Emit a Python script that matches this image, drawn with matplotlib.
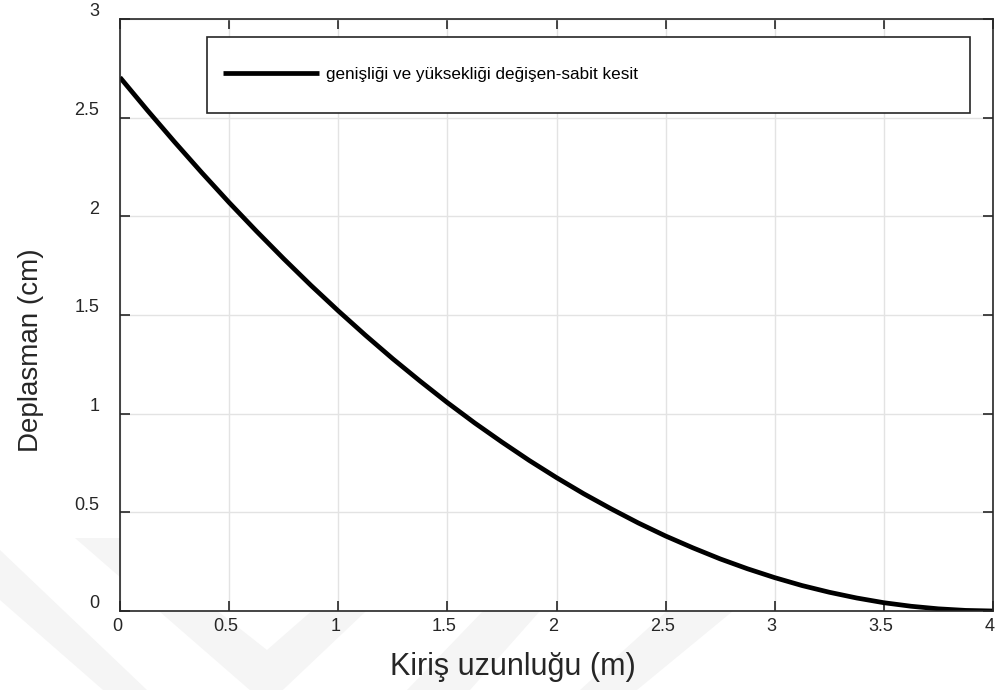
import matplotlib
matplotlib.use("Agg")
import matplotlib.pyplot as plt
from matplotlib.patches import Polygon, Rectangle
from matplotlib.transforms import ScaledTranslation

plt.rcParams['font.family'] = ['Liberation Sans', 'DejaVu Sans']

# beam length (m) and deflection (cm)
x_m = [0, 0.125, 0.25, 0.375, 0.5, 0.625, 0.75, 0.875, 1.0, 1.125, 1.25, 1.375, 1.5, 1.625,
       1.75, 1.875, 2.0, 2.125, 2.25, 2.375, 2.5, 2.625, 2.75, 2.875, 3.0, 3.125, 3.25,
       3.375, 3.5, 3.625, 3.75, 3.875, 4.0]
defl_cm = [2.704, 2.538, 2.377, 2.221, 2.070, 1.925, 1.785, 1.650, 1.521, 1.397, 1.278,
           1.165, 1.056, 0.953, 0.856, 0.763, 0.676, 0.594, 0.518, 0.446, 0.380, 0.320,
           0.264, 0.214, 0.169, 0.129, 0.095, 0.066, 0.042, 0.024, 0.011, 0.003, 0.0]
series_label = 'genişliği ve yüksekliği değişen-sabit kesit'
xticks = [0, 0.5, 1, 1.5, 2, 2.5, 3, 3.5, 4]
xticklabels = ['0', '0.5', '1', '1.5', '2', '2.5', '3', '3.5', '4']
yticks = [0, 0.5, 1, 1.5, 2, 2.5, 3]
yticklabels = ['0', '0.5', '1', '1.5', '2', '2.5', '3']

W, H = 999, 690
fig = plt.figure(figsize=(W / 100, H / 100), dpi=100)

# faint watermark behind everything (pixel coords, y down)
wm = [
    [(0, 550), (0, 600), (103, 690), (147, 690)],
    [(75, 538), (125, 538), (267, 650), (370, 560), (420, 560), (267, 705)],
    [(407, 690), (470, 690), (540, 611), (483, 611)],
    [(580, 690), (637, 690), (733, 611), (667, 611)],
]
for pts in wm:
    fig.patches.append(Polygon([(px / W, 1 - py / H) for px, py in pts], closed=True,
                               transform=fig.transFigure, facecolor='#f5f5f5',
                               edgecolor='none', zorder=-5))

ax = fig.add_axes([120 / W, 1 - 611 / H, 873 / W, 592 / H])
ax.set_zorder(1)
ax.set_facecolor('white')

ax.plot(x_m, defl_cm, color='black', lw=3.4, label=series_label,
        solid_capstyle='butt', solid_joinstyle='round')

ax.set_xlim(0, 4)
ax.set_ylim(0, 3)
ax.set_xticks(xticks, xticklabels)
ax.set_yticks(yticks, yticklabels)
ax.grid(True, color='#e3e3e3', lw=1)
ax.set_axisbelow(True)
for s in ax.spines.values():
    s.set_color('#262626')
    s.set_linewidth(1.2)
ax.tick_params(direction='in', length=7, width=1.2, color='#262626',
               top=True, right=True, labelsize=13, labelcolor='#262626')
ax.tick_params(axis='y', pad=15)
ax.tick_params(axis='x', pad=5)

# labels sit a bit off their ticks, as in the original export
for lab in ax.get_yticklabels():
    lab.set_transform(lab.get_transform() + ScaledTranslation(0, 9 / 100, fig.dpi_scale_trans))
for lab in ax.get_xticklabels():
    lab.set_transform(lab.get_transform() + ScaledTranslation(-3 / 100, 0, fig.dpi_scale_trans))

ax.set_xlabel('Kiriş uzunluğu (m)', fontsize=22, color='#262626')
ax.set_ylabel('Deplasman (cm)', fontsize=20, color='#262626')
ax.xaxis.set_label_coords(0.45, -0.07)
ax.yaxis.set_label_coords(-0.087, 0.44)

# legend box
ax.add_patch(Rectangle((0.0997, 0.8412), 0.874, 0.1284, transform=ax.transAxes,
                       facecolor='white', edgecolor='#262626', lw=1.2, zorder=3))
leg = ax.legend(loc='center left', bbox_to_anchor=(0.118, 0.907), frameon=False,
                borderpad=0, borderaxespad=0, handlelength=5.6, handletextpad=0.4,
                fontsize=12.3)
leg.set_zorder(4)

fig.savefig('out.png', dpi=100, facecolor='white')
